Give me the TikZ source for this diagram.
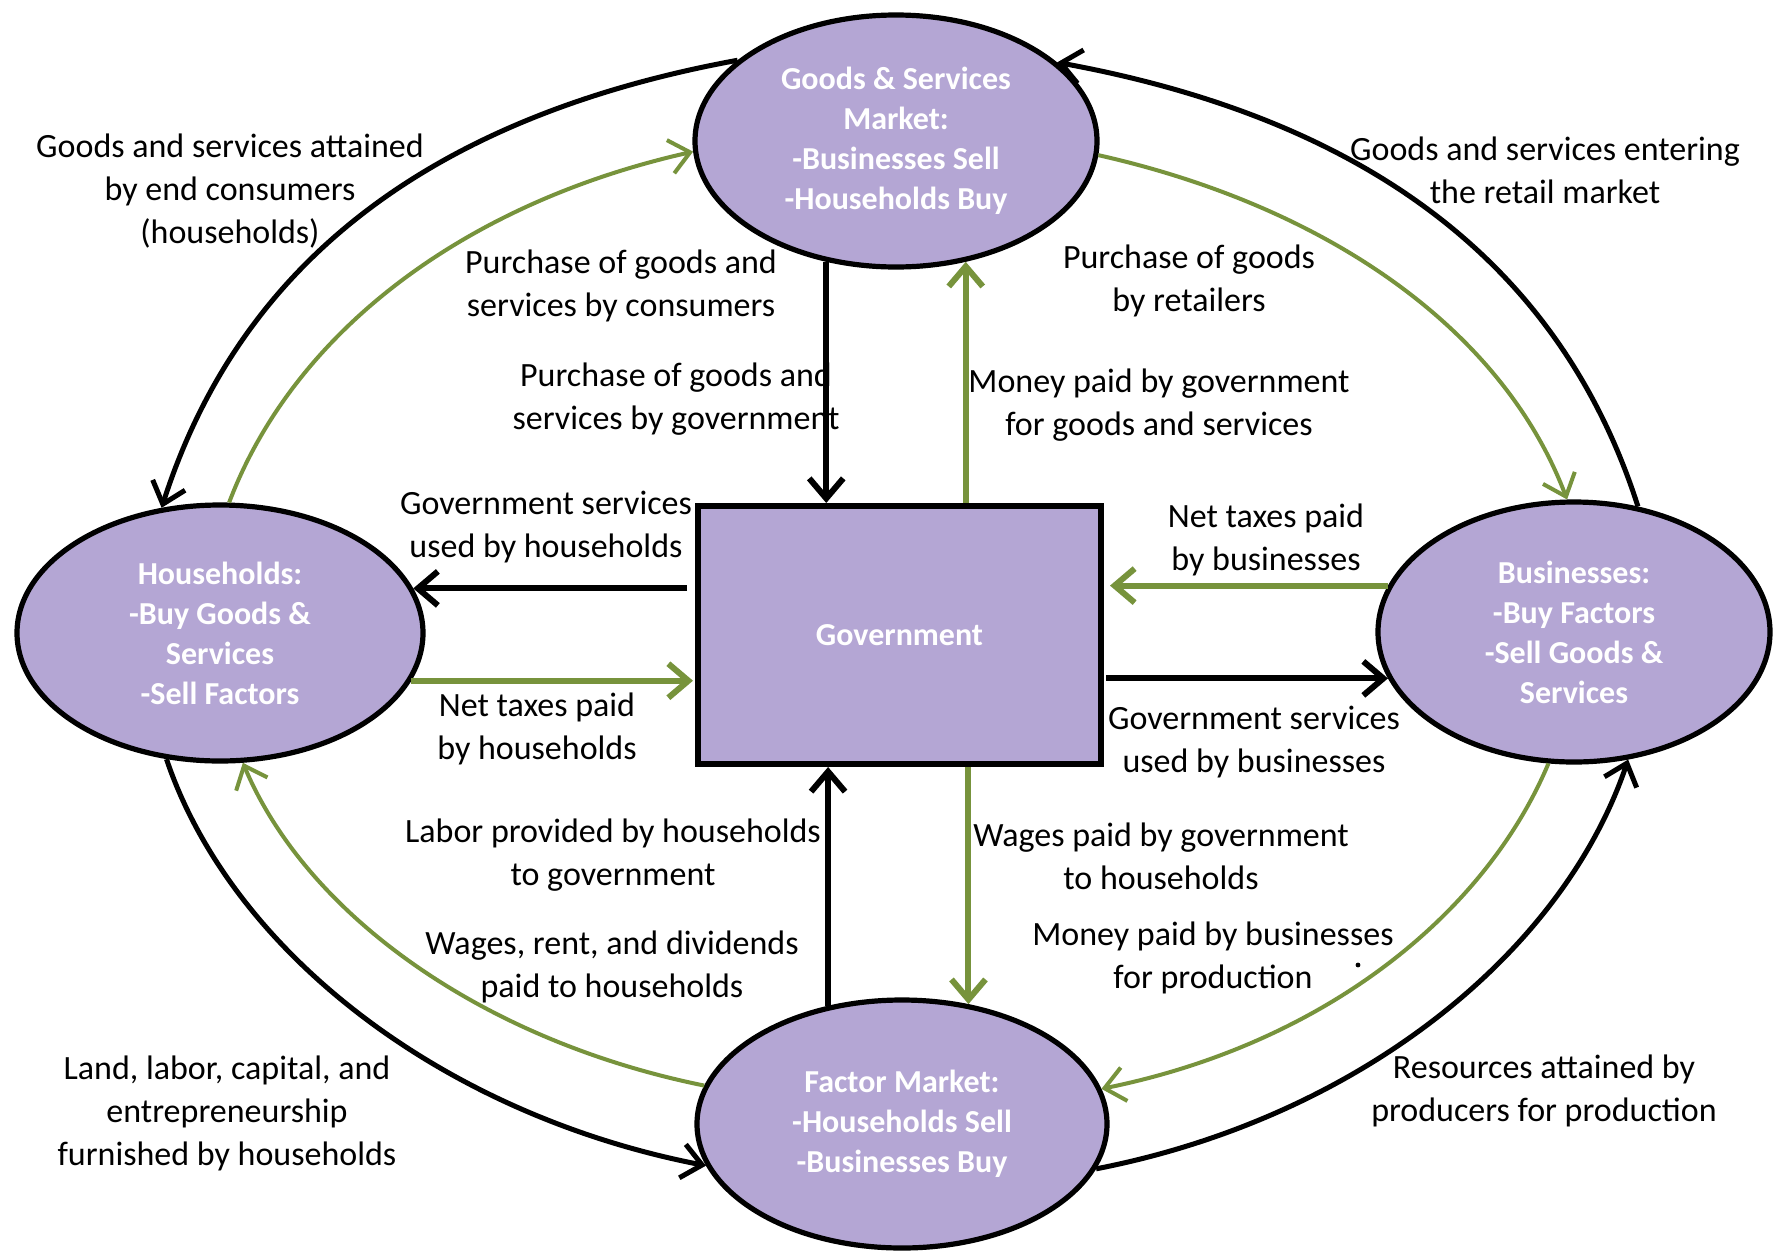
\documentclass[tikz,border=0pt]{standalone}
\usepackage{fontspec}
\setmainfont{Carlito}
\usetikzlibrary{arrows.meta,shapes.geometric}
\definecolor{lav}{RGB}{180,166,212}
\definecolor{olivegrn}{RGB}{119,147,60}
\begin{document}
\begin{tikzpicture}[x=0.5pt,y=-0.5pt,
  mkt/.style={ellipse, draw=black, line width=2.6pt, fill=lav, text=white,
    font=\fontsize{16}{20}\selectfont\bfseries, align=center, inner sep=0pt},
  govbox/.style={rectangle, draw=black, line width=3pt, fill=lav, text=white,
    font=\fontsize{16}{20}\selectfont\bfseries, inner sep=0pt},
  lbl/.style={align=center, font=\fontsize{17}{21.5}\selectfont, inner sep=0pt},
  blk/.style={draw=black, line width=3pt, -{Straight Barb[length=10pt,width=17pt]}},
  grn/.style={draw=olivegrn, line width=3pt, -{Straight Barb[length=10pt,width=17pt]}},
  blkc/.style={blk, line width=2.5pt},
  grnc/.style={grn, line width=2pt}]

\useasboundingbox (0,0) rectangle (1774,1254);
\fill[white] (0,0) rectangle (1774,1254);

% main nodes
\node[mkt, minimum width=201pt, minimum height=126pt] (gs) at (896,141)
  {Goods \& Services\\Market:\\-Businesses Sell\\-Households Buy};
\node[mkt, minimum width=203pt, minimum height=128pt] (hh) at (220,633)
  {Households:\\-Buy Goods \&\\Services\\-Sell Factors};
\node[mkt, minimum width=196pt, minimum height=130pt] (bu) at (1574,632)
  {Businesses:\\-Buy Factors\\-Sell Goods \&\\Services};
\node[mkt, minimum width=205pt, minimum height=124pt] (fm) at (902,1124)
  {Factor Market:\\-Households Sell\\-Businesses Buy};
\node[govbox, minimum width=201.5pt, minimum height=129pt] (gov) at (899.5,635) {Government};

% straight connectors
\draw[blk] (gs.240.6) -- (gs.240.6 |- gov.north);
\draw[grn] (gov.north -| gs.300.2) -- (gs.300.2);
\draw[blk, shorten <=4pt] (gov.west |- hh.13.3) -- (hh.13.3);
\draw[grn, shorten >=1pt] (hh.346) -- (hh.346 -| gov.west);
\draw[grn, shorten >=3pt] (bu.166.6) -- (bu.166.6 -| gov.east);
\draw[blk, shorten <=1pt] (gov.east |- bu.194.8) -- (bu.194.8);
\draw[blk] (fm.122.2) -- (fm.122.2 |- gov.south);
\draw[grn] (gov.south -| fm.61.9) -- (fm.61.9);

% outer black curves
\draw[blkc] (gs.153.5) .. controls +(-300,55) and +(80,-250) .. (hh.115.5);
\draw[blkc] (bu.63.6) .. controls +(-80,-250) and +(300,55) .. (gs.26.3);
\draw[blkc] (hh.247) .. controls +(64,190) and +(-267,-52) .. (fm.192.7);
\draw[blkc] (fm.347.3) .. controls +(267,-52) and +(-64,190) .. (bu.293);

% inner green curves
\draw[grnc] (hh.86.4) .. controls +(64,-169) and +(-231,52) .. (gs.183);
\draw[grnc] (gs.356) .. controls +(231,52) and +(-64,-169) .. (bu.93);
\draw[grnc] (fm.169.5) .. controls +(-222,-45) and +(64,152) .. (hh.280.3);
\draw[grnc] (bu.259.7) .. controls +(-64,152) and +(222,-45) .. (fm.10.5);

% labels
\node[lbl] (l1) at (230,191) {Goods and services attained\\by end consumers\\(households)};
\node[lbl] (l2) at (1545,170) {Goods and services entering\\the retail market};
\node[lbl] (l3) at (621,286) {Purchase of goods and\\services by consumers};
\node[lbl] (l4) at (1189,281) {Purchase of goods\\by retailers};
\node[lbl] (l5) at (676,399) {Purchase of goods and\\services by government};
\node[lbl] (l6) at (1159,405) {Money paid by government\\for goods and services};
\node[lbl] (l7) at (546,527) {Government services\\used by households};
\node[lbl] (l8) at (1266,540) {Net taxes paid\\by businesses};
\node[lbl] (l9) at (537,729) {Net taxes paid\\by households};
\node[lbl] (l10) at (1254,742) {Government services\\used by businesses};
\node[lbl] (l11) at (613,855) {Labor provided by households\\to government};
\node[lbl] (l12) at (1161,856) {Wages paid by government\\to households};
\node[lbl] (l13) at (612,967) {Wages, rent, and dividends\\paid to households};
\node[lbl] (l14) at (1213,958) {Money paid by businesses\\for production};
\node[lbl] (l15) at (227,1113) {Land, labor, capital, and\\entrepreneurship\\furnished by households};
\node[lbl] (l16) at (1544,1091) {Resources attained by\\producers for production};
\fill (1358,965) circle (1.2pt);
\end{tikzpicture}
\end{document}
